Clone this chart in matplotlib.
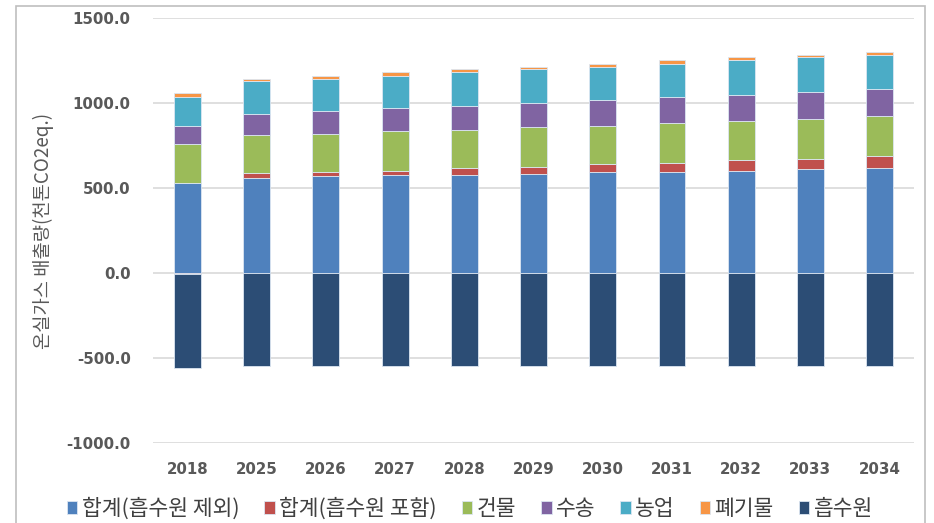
import numpy as np
import matplotlib.pyplot as plt
from matplotlib.patches import Rectangle

plt.rcParams['font.family'] = ['Noto Sans CJK KR', 'DejaVu Sans']

years = ['2018', '2025', '2026', '2027', '2028', '2029', '2030', '2031', '2032', '2033', '2034']

total_excl = [531, 560, 568, 576, 576, 584, 592, 592, 599, 609, 617]
total_incl = [-8, 26, 25, 25, 41, 41, 48, 56, 65, 62, 70]
building = [228, 226, 227, 234, 227, 234, 227, 234, 228, 237, 234]
transport = [103, 125, 135, 135, 140, 143, 150, 151, 157, 156, 159]
agriculture = [173, 190, 187, 190, 199, 195, 197, 197, 205, 205, 205]
waste = [24, 15, 18, 23, 14, 16, 16, 24, 15, 16, 15]
sink = [-552, -547, -547, -547, -547, -547, -547, -547, -547, -547, -547]

series = [
    ('합계(흡수원 제외)', total_excl, '#4F81BD'),
    ('합계(흡수원 포함)', total_incl, '#C0504D'),
    ('건물', building, '#9BBB59'),
    ('수송', transport, '#8064A2'),
    ('농업', agriculture, '#4BACC6'),
    ('폐기물', waste, '#F79646'),
    ('흡수원', sink, '#2C4D75'),
]

fig = plt.figure(figsize=(9.34, 5.23), dpi=100)
ax = fig.add_axes([0.1638, 0.153, 0.815, 0.8126])

x = np.arange(len(years))
pos = np.zeros(len(years))
neg = np.zeros(len(years))
for name, vals, col in series:
    v = np.array(vals, dtype=float)
    base = np.where(v >= 0, pos, neg)
    ax.bar(x, v, bottom=base, width=0.39, color=col, label=name,
           edgecolor='#dce6f2', linewidth=0.6, zorder=3)
    pos = pos + np.where(v >= 0, v, 0)
    neg = neg + np.where(v < 0, v, 0)

ax.set_ylim(-1000, 1500)
ax.set_xlim(-0.5, len(years) - 0.5)
ax.set_yticks(np.arange(-1000, 1501, 500))
ax.set_yticklabels([f'{t:.1f}' for t in np.arange(-1000, 1501, 500)])
ax.set_xticks(x)
ax.set_xticklabels(years)
for lbl in ax.get_xticklabels() + ax.get_yticklabels():
    lbl.set_family('DejaVu Sans')
    lbl.set_fontweight('bold')
    lbl.set_fontsize(10.8)
    lbl.set_color('#595959')
ax.tick_params(axis='y', length=0, pad=16)
ax.tick_params(axis='x', length=0, pad=14)
ax.grid(axis='y', color='#d9d9d9', linewidth=1.2, zorder=0)
for s in ax.spines.values():
    s.set_visible(False)

ax.set_ylabel('온실가스 배출량(천톤CO2eq.)', fontsize=13.5, color='#595959', labelpad=9)

fig.legend(loc='center', bbox_to_anchor=(0.503, 0.027), ncol=7, frameon=False,
           fontsize=15.5, handlelength=0.5, handleheight=0.5, handletextpad=0.2,
           columnspacing=1.15, labelcolor='#404040')

# outer chart border
fig.patches.append(Rectangle((16 / 934, -0.05), (925 - 16) / 934, 1.05 - 6 / 523,
                             transform=fig.transFigure, fill=False,
                             edgecolor='#bfbfbf', linewidth=1.2))

fig.savefig('out.png', dpi=100)
